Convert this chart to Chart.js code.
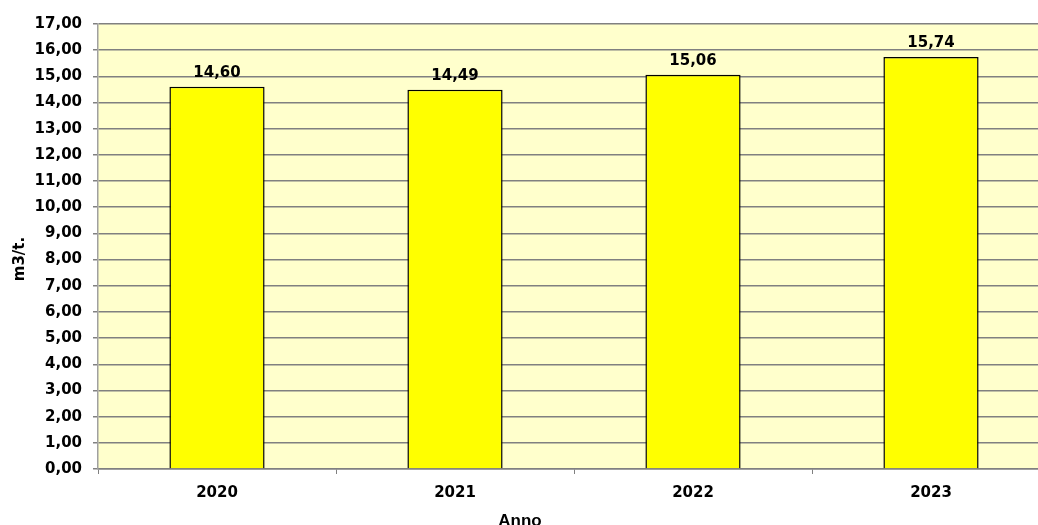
<!DOCTYPE html>
<html><head><meta charset="utf-8">
<script src="https://cdn.jsdelivr.net/npm/chart.js@4.4.1/dist/chart.umd.min.js"></script>
<style>
html,body{margin:0;padding:0;overflow:hidden;background:#fff;}
#wrap{width:1050px;height:525px;position:relative;}
</style></head>
<body><div id="wrap"><canvas id="c"></canvas></div>
<script>
const categories = ['2020','2021','2022','2023'];
const values = [14.60, 14.49, 15.06, 15.74];
const yTitle = 'm3/t.';
const xTitle = 'Anno';
const fmt = v => v.toFixed(2).replace('.', ',');

const bgPlugin = {
  id:'bg',
  beforeDraw(chart){
    const {ctx, chartArea:a} = chart;
    ctx.save(); ctx.fillStyle='#FFFFCC';
    ctx.fillRect(a.left, a.top, a.right-a.left, a.bottom-a.top);
    ctx.restore();
  }
};
const labelPlugin = {
  id:'vals',
  afterDatasetsDraw(chart){
    const {ctx} = chart;
    const meta = chart.getDatasetMeta(0);
    ctx.save();
    ctx.font = 'bold 15px "DejaVu Sans"';
    ctx.fillStyle = '#000';
    ctx.textAlign = 'center';
    ctx.textBaseline = 'alphabetic';
    meta.data.forEach((el,i)=>{
      ctx.fillText(fmt(values[i]), el.x, el.y - 10);
    });
    ctx.save();
    ctx.translate(20, 259);
    ctx.rotate(-Math.PI/2);
    ctx.textBaseline = 'middle';
    ctx.fillText(yTitle, 0, 0);
    ctx.restore();
    ctx.font = 'bold 17px "Liberation Sans"';
    ctx.textBaseline = 'alphabetic';
    ctx.fillText(xTitle, 520, 526);
    ctx.restore();
  }
};
Chart.defaults.font.family = '"DejaVu Sans"';
Chart.defaults.font.weight = 'bold';
Chart.defaults.font.size = 15;
Chart.defaults.color = '#000';
new Chart(document.getElementById('c'), {
  type:'bar',
  data:{labels:categories, datasets:[{data:values, backgroundColor:'#FFFF00', borderColor:'#000', borderWidth:1.5, barPercentage:0.4, categoryPercentage:1.0}]},
  options:{
    responsive:true, maintainAspectRatio:false, animation:false,
    layout:{padding:{top:24,left:0,right:0,bottom:0}},
    plugins:{legend:{display:false}, tooltip:{enabled:false}},
    scales:{
      x:{
        grid:{display:true, drawOnChartArea:false, drawTicks:true, tickLength:5, color:'#808080', offset:true},
        border:{display:true, color:'#808080', width:1.5},
        ticks:{padding:10, font:{size:15, weight:'bold'}},
        afterFit(s){ s.height = 56; }
      },
      y:{
        min:0, max:17,
        grid:{color:'#808080', lineWidth:1.5, tickLength:5, drawTicks:true},
        border:{display:true, color:'#a0a0a0', width:1.5},
        ticks:{stepSize:1, padding:11, callback:v=>fmt(v), font:{size:15, weight:'bold'}},
        afterFit(s){ s.width = 98; }
      }
    }
  },
  plugins:[bgPlugin, labelPlugin]
});
</script></body></html>
